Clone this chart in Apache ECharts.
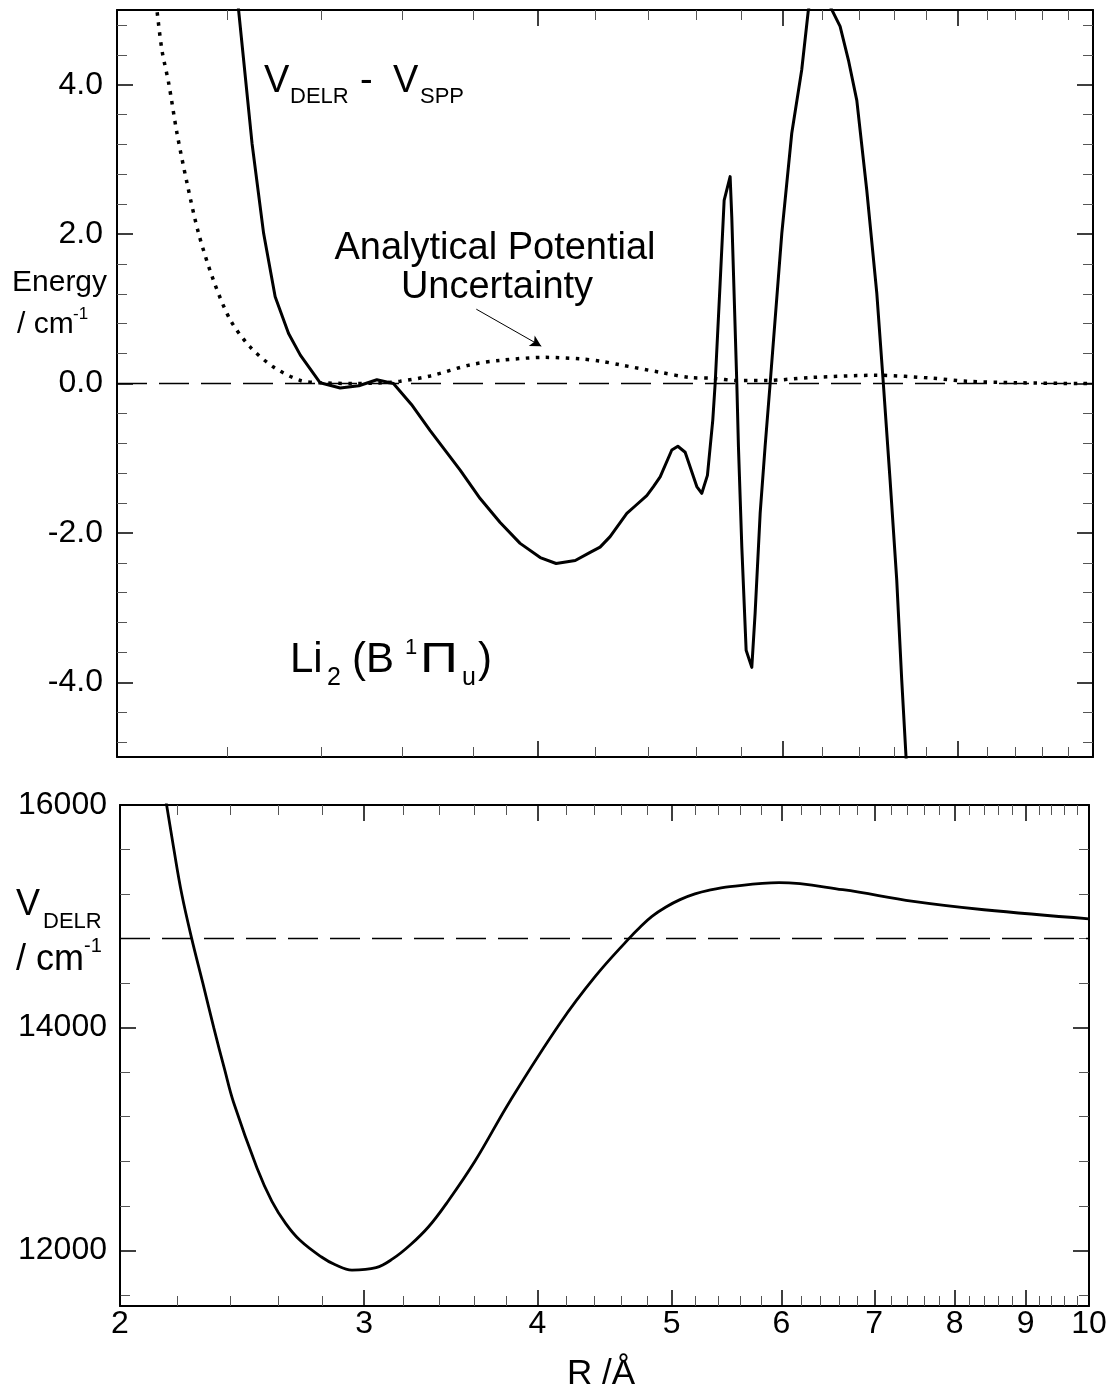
<!DOCTYPE html>
<html><head><meta charset="utf-8">
<script src="https://cdn.jsdelivr.net/npm/echarts@6/dist/echarts.min.js"></script>
<style>html,body{margin:0;padding:0;background:#fff}#c{width:1114px;height:1390px}</style>
</head><body><div id="c"></div>
<script>
// ---- data ----
// V_DELR - V_SPP  (top panel, solid)
const diffR = [2.425, 2.444, 2.499, 2.547, 2.596, 2.654, 2.706, 2.796, 2.89, 2.98, 3.07, 3.155, 3.25, 3.352, 3.522, 3.64, 3.762, 3.888, 4.019, 4.126, 4.258, 4.364, 4.436, 4.51, 4.636, 4.70, 4.791, 4.844, 4.898, 4.993, 5.043, 5.104, 5.203, 5.246, 5.295, 5.342, 5.363, 5.407, 5.443, 5.497, 5.512, 5.558, 5.573, 5.604, 5.644, 5.697, 5.728, 5.776, 5.823, 5.872, 5.986, 6.085, 6.186, 6.254, 6.36, 6.482, 6.59, 6.681, 6.774, 6.886, 7.001, 7.077, 7.156, 7.235, 7.295, 7.347, 7.40];
const diffE = [5.6, 5.0, 3.21, 2.01, 1.16, 0.67, 0.38, 0.01, -0.06, -0.03, 0.05, 0.0, -0.28, -0.63, -1.16, -1.54, -1.86, -2.14, -2.33, -2.41, -2.37, -2.26, -2.19, -2.05, -1.74, -1.64, -1.50, -1.38, -1.25, -0.89, -0.84, -0.92, -1.38, -1.47, -1.23, -0.49, 0.0, 1.34, 2.45, 2.77, 2.23, 0.0, -0.85, -2.19, -3.57, -3.80, -3.08, -1.74, -0.85, 0.0, 2.01, 3.35, 4.20, 5.0, 5.6, 5.05, 4.78, 4.33, 3.79, 2.59, 1.21, 0.0, -1.29, -2.63, -3.97, -5.0, -6.0];
// Analytical potential uncertainty (top panel, dotted)
const uncR = [2.12, 2.136, 2.154, 2.178, 2.208, 2.245, 2.288, 2.345, 2.411, 2.491, 2.589, 2.706, 2.796, 2.95, 3.10, 3.19, 3.352, 3.581, 3.762, 4.052, 4.293, 4.436, 4.585, 4.898, 5.146, 5.345, 5.558, 5.84, 6.272, 7.001, 7.685, 8.121, 8.819, 9.837, 10];
const uncE = [5.5, 5.0, 4.46, 4.02, 3.35, 2.68, 2.01, 1.38, 0.85, 0.49, 0.22, 0.04, 0.01, 0.0, 0.01, 0.03, 0.10, 0.25, 0.31, 0.35, 0.33, 0.30, 0.25, 0.15, 0.08, 0.07, 0.04, 0.04, 0.08, 0.11, 0.07, 0.03, 0.01, 0.0, 0.0];
// V_DELR potential (bottom panel)
const delrR = [2.14, 2.161, 2.186, 2.216, 2.253, 2.295, 2.337, 2.38, 2.415, 2.511, 2.574, 2.634, 2.697, 2.795, 2.86, 2.94, 3.06, 3.147, 3.24, 3.339, 3.439, 3.606, 3.827, 4.154, 4.404, 4.657, 4.744, 4.839, 4.953, 5.07, 5.197, 5.315, 5.508, 5.977, 6.643, 7.47, 8.399, 10];
const delrV = [16290, 16000, 15620, 15200, 14800, 14400, 14000, 13620, 13330, 12740, 12440, 12240, 12090, 11940, 11870, 11823, 11845, 11925, 12050, 12212, 12420, 12800, 13351, 14040, 14460, 14800, 14902, 15000, 15084, 15150, 15201, 15233, 15266, 15302, 15239, 15134, 15059, 14978];

// reference levels / annotation
const zeroLevel = 0;
const asymptote = 14800;
const arrowFrom = [3.617, 0.995];
const arrowTo = [4.026, 0.50];

// ticks and tick labels
const topXMajorTicks = [4, 6, 8];
const topXMinorTicks = [2.4, 2.8, 3.2, 3.6, 4.4, 4.8, 5.2, 5.6, 6.4, 6.8, 7.2, 7.6, 8.4, 8.8, 9.2, 9.6];
const botXLabels = [2, 3, 4, 5, 6, 7, 8, 9, 10];
const botXMinorTicks = [2.2, 2.4, 2.6, 2.8, 3.2, 3.4, 3.6, 3.8, 4.2, 4.4, 4.6, 4.8, 5.2, 5.4, 5.6, 5.8, 6.2, 6.4, 6.6, 6.8, 7.2, 7.4, 7.6, 7.8, 8.2, 8.4, 8.6, 8.8, 9.2, 9.4, 9.6, 9.8];
const topYLabels = [-4, -2, 0, 2, 4];
const topYMinorTicks = [-4.8, -4.4, -3.6, -3.2, -2.8, -2.4, -1.6, -1.2, -0.8, -0.4, 0.4, 0.8, 1.2, 1.6, 2.4, 2.8, 3.2, 3.6, 4.4, 4.8];
const botYLabels = [12000, 14000, 16000];
const botYMinorTicks = [11600, 12400, 12800, 13200, 13600, 14400, 14800, 15200, 15600];

// ---- chart ----
const FF = '"Liberation Sans", Arial, Helvetica, sans-serif';
const zip = (a, b) => a.map((v, i) => [v, b[i]]);

function axisX(grid, pos, major, ticks, labels) {
  return {
    type: 'log', logBase: 10, gridIndex: grid, position: pos, min: 2, max: 10,
    axisLine: { show: major, onZero: false, lineStyle: { color: '#000', width: 2 } },
    axisTick: { show: true, inside: true, length: major ? 16 : 10, customValues: ticks,
      lineStyle: { color: major ? '#000' : '#555', width: major ? 1.5 : 1 } },
    axisLabel: labels ? { show: true, customValues: labels, margin: 2, fontSize: 32, fontFamily: FF, color: '#000',
      formatter: v => String(Math.round(v)) } : { show: false },
    splitLine: { show: false }, minorTick: { show: false }, minorSplitLine: { show: false }
  };
}
function axisY(grid, pos, major, min, max, ticks, labels, fmt, margin) {
  return {
    type: 'value', gridIndex: grid, position: pos, min: min, max: max,
    axisLine: { show: major, onZero: false, lineStyle: { color: '#000', width: 2 } },
    axisTick: { show: true, inside: true, length: major ? 16 : 10, customValues: ticks,
      lineStyle: { color: major ? '#000' : '#555', width: major ? 1.5 : 1 } },
    axisLabel: labels ? { show: true, customValues: labels, margin: margin, fontSize: 32, fontFamily: FF, color: '#000',
      formatter: fmt } : { show: false },
    splitLine: { show: false }, minorTick: { show: false }, minorSplitLine: { show: false }
  };
}

function T(text, x, baseline, size, align, sx) {
  return { type: 'text', x: x, y: baseline - 0.3465 * size, z: 100, scaleX: sx || 1,
    style: { text: text, fontSize: size, fontFamily: FF, fill: '#000', align: align || 'left', verticalAlign: 'middle' } };
}

const option = {
  animation: false,
  backgroundColor: '#fff',
  grid: [
    { left: 117, top: 10, width: 976, height: 747, outerBoundsMode: 'none', containLabel: false },
    { left: 120, top: 805, width: 969, height: 501, outerBoundsMode: 'none', containLabel: false }
  ],
  xAxis: [
    axisX(0, 'bottom', true, topXMajorTicks, null),
    axisX(0, 'bottom', false, topXMinorTicks, null),
    axisX(0, 'top', true, topXMajorTicks, null),
    axisX(0, 'top', false, topXMinorTicks, null),
    axisX(1, 'bottom', true, botXLabels, botXLabels),
    axisX(1, 'bottom', false, botXMinorTicks, null),
    axisX(1, 'top', true, botXLabels, null),
    axisX(1, 'top', false, botXMinorTicks, null)
  ],
  yAxis: [
    axisY(0, 'left', true, -5, 5, topYLabels, topYLabels, v => Number(v).toFixed(1), 14),
    axisY(0, 'left', false, -5, 5, topYMinorTicks, null),
    axisY(0, 'right', true, -5, 5, topYLabels, null),
    axisY(0, 'right', false, -5, 5, topYMinorTicks, null),
    axisY(1, 'left', true, 11500, 16000, botYLabels, botYLabels, v => String(Math.round(v)), 13),
    axisY(1, 'left', false, 11500, 16000, botYMinorTicks, null),
    axisY(1, 'right', true, 11500, 16000, botYLabels, null),
    axisY(1, 'right', false, 11500, 16000, botYMinorTicks, null)
  ],
  series: [
    {
      type: 'line', xAxisIndex: 0, yAxisIndex: 0, data: zip(diffR, diffE),
      symbol: 'none', showSymbol: false, clip: true, silent: true, z: 4,
      lineStyle: { color: '#000', width: 3, join: 'round' },
      markLine: { silent: true, symbol: 'none', label: { show: false },
        lineStyle: { color: '#000', width: 1.3, type: [30, 12] },
        data: [{ yAxis: zeroLevel }] }
    },
    {
      type: 'line', xAxisIndex: 0, yAxisIndex: 0, data: zip(uncR, uncE),
      symbol: 'none', showSymbol: false, clip: true, silent: true, smooth: 0.3, z: 3,
      lineStyle: { color: '#000', width: 3.5, type: [3.5, 6.5], cap: 'butt' },
      markLine: { silent: true, symbol: ['none', 'arrow'], symbolSize: [9, 11], label: { show: false },
        lineStyle: { color: '#000', width: 1, type: 'solid' },
        data: [[{ coord: arrowFrom }, { coord: arrowTo }]] }
    },
    {
      type: 'line', xAxisIndex: 4, yAxisIndex: 4, data: zip(delrR, delrV),
      symbol: 'none', showSymbol: false, clip: true, silent: true, smooth: 0.4, z: 4,
      lineStyle: { color: '#000', width: 2.8 },
      markLine: { silent: true, symbol: 'none', label: { show: false },
        lineStyle: { color: '#000', width: 1.3, type: [30, 12] },
        data: [{ yAxis: asymptote }] }
    }
  ],
  graphic: [
    T('V', 264, 95, 38), T('DELR', 290, 105, 22), T('-', 360, 95, 38), T('V', 393, 95, 38), T('SPP', 420, 105, 22),
    T('Analytical Potential', 495, 262, 38, 'center'), T('Uncertainty', 497, 301, 38, 'center'),
    T('Energy', 12, 293, 30), T('/ cm', 17, 335, 30), T('-1', 73, 320, 17),
    T('Li', 290, 675, 42), T('2', 327, 687, 25), T('(B', 352, 675, 42), T('1', 405, 656, 22),
    T('\u03A0', 420, 675, 42, 'left', 1.25), T('u', 462, 687, 25), T(')', 478, 675, 42),
    T('V', 16, 918, 36), T('DELR', 43, 930, 22), T('/ cm', 16, 973, 36), T('-1', 84, 953, 20),
    T('R /\u00C5', 567, 1386, 35)
  ]
};
const chart = echarts.init(document.getElementById('c'), null, { renderer: 'canvas' });
chart.setOption(option);
</script></body></html>
